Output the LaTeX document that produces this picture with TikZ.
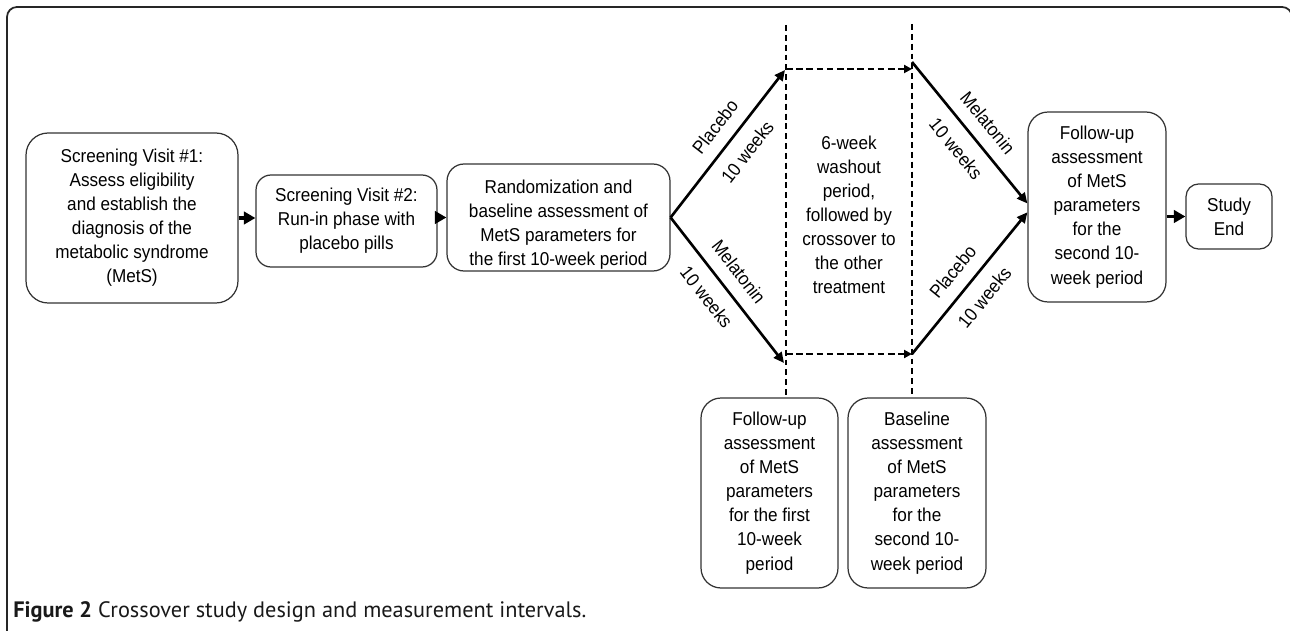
\documentclass[tikz,border=0pt]{standalone}
\usepackage{fontspec}
\setmainfont{Liberation Sans}[FakeStretch=0.92]
\newfontfamily\captionfont{PT Sans}
\usepackage{tikz}
\usetikzlibrary{arrows.meta, calc}
\newcommand{\boxfont}{\fontsize{10.6pt}{13.7pt}\selectfont}
\tikzset{
  stage box/.style={
    draw=black!80,
    line width=0.7pt,
    rounded corners=0.4cm,
    align=center,
    inner sep=1pt,
    font=\boxfont
  },
  step arrow/.style={
    -{Triangle[length=6.5pt, width=7pt]},
    line width=1.9pt
  },
  drug arrow/.style={
    -{Triangle[length=6pt, width=5.5pt]},
    line width=1.5pt
  },
  drug label/.style={
    font=\boxfont,
    inner sep=1pt
  },
  period line/.style={
    line width=1.3pt,
    dash pattern=on 3.4pt off 2.2pt
  },
  washout arrow/.style={
    -{Triangle[length=4.5pt, width=4.5pt]},
    line width=1.3pt,
    dash pattern=on 3.8pt off 2pt
  },
  frame line/.style={
    draw=black!85,
    line width=1pt,
    rounded corners=0.2cm
  },
  caption text/.style={
    font=\captionfont\fontsize{12.7pt}{15pt}\selectfont,
    text=black!90,
    inner sep=0pt
  }
}

\begin{document}
\begin{tikzpicture}[x=0.02cm, y=-0.02cm]
    % 0. 页面与外框
    \useasboundingbox (0,0) rectangle (1290,631);
    \clip (0,0) rectangle (1290,631);
    \fill[white] (0,0) rectangle (1290,631);
    \draw[frame line] (7,660) -- (7,7) -- (1292,7) -- (1292,660);

    % 1. 筛选与随机化
    \node[stage box, minimum width=4.24cm, minimum height=3.4cm, rounded corners=0.44cm] (visit1) at (132,218)
      {Screening Visit \#1:\\Assess eligibility\\and establish the\\diagnosis of the\\metabolic syndrome\\(MetS)};
    \node[stage box, minimum width=3.62cm, minimum height=1.84cm, rounded corners=0.3cm] (visit2) at (346.5,221)
      {Screening Visit \#2:\\Run-in phase with\\placebo pills};
    \node[stage box, minimum width=4.46cm, minimum height=2.14cm, rounded corners=0.34cm,
          text height=56.6pt, text depth=2pt] (rand) at (558.5,217.5)
      {Randomization and\\baseline assessment of\\MetS parameters for\\the first 10-week period};

    \draw[step arrow] (visit1.east) -- (visit1.east -| visit2.west);
    \draw[step arrow] (rand.west -| visit2.east) -- (rand.west);

    % 2. 洗脱期的两条分界线
    \coordinate (wash1) at (786,25);
    \coordinate (wash2) at (912,24);
    \coordinate (pla1) at (786,69);
    \coordinate (pla2) at (912,69);
    \coordinate (mel1) at (786,354);
    \coordinate (mel2) at (912,354);

    \node[stage box, minimum width=2.74cm, minimum height=3.8cm] (follow1) at (769.5,493)
      {Follow-up\\assessment\\of MetS\\parameters\\for the first\\10-week\\period};
    \node[stage box, minimum width=2.76cm, minimum height=3.8cm] (base2) at (917,493)
      {Baseline\\assessment\\of MetS\\parameters\\for the\\second 10-\\week period};

    \draw[period line] (wash1) -- (wash1 |- follow1.north);
    \draw[period line] (wash2) -- (wash2 |- base2.north);
    \draw[washout arrow] (pla1) -- (pla2);
    \draw[washout arrow] (mel1) -- (mel2);

    \node[drug label, align=center] (washout) at (849,215)
      {6-week\\washout\\period,\\followed by\\crossover to\\the other\\treatment};

    % 3. 第一阶段 (10 周)
    \draw[drug arrow] (rand.east) -- ($(pla1)+(-1,1)$)
      node[drug label, pos=0.53, sloped, above=6pt] (lab1) {Placebo}
      node[drug label, pos=0.53, sloped, below=6pt] (lab2) {10 weeks};
    \draw[drug arrow] (rand.east) -- ($(mel1)+(-2,9)$)
      node[drug label, pos=0.46, sloped, above=6pt] (lab3) {Melatonin}
      node[drug label, pos=0.46, sloped, below=6pt] (lab4) {10 weeks};

    % 4. 交叉后的第二阶段
    \node[stage box, minimum width=2.76cm, minimum height=3.8cm] (follow2) at (1097,207)
      {Follow-up\\assessment\\of MetS\\parameters\\for the\\second 10-\\week period};
    \node[stage box, minimum width=1.72cm, minimum height=1.3cm, rounded corners=0.25cm] (studyend) at (1229,216.5)
      {Study\\End};

    \draw[drug arrow] ($(pla2)+(0,-7)$) -- ([yshift=2pt]follow2.west)
      node[drug label, pos=0.52, sloped, above=6pt] (lab5) {Melatonin}
      node[drug label, pos=0.52, sloped, below=6pt] (lab6) {10 weeks};
    \draw[drug arrow] (mel2) -- ([yshift=-3pt]follow2.west)
      node[drug label, pos=0.49, sloped, above=6pt] (lab7) {Placebo}
      node[drug label, pos=0.49, sloped, below=6pt] (lab8) {10 weeks};

    \draw[step arrow] (follow2.east |- studyend.west) -- (studyend.west);

    % 5. 图题
    \node[caption text, anchor=base west] (caption) at (13,617)
      {\textbf{Figure 2} Crossover study design and measurement intervals.};

  \end{tikzpicture}
\end{document}
